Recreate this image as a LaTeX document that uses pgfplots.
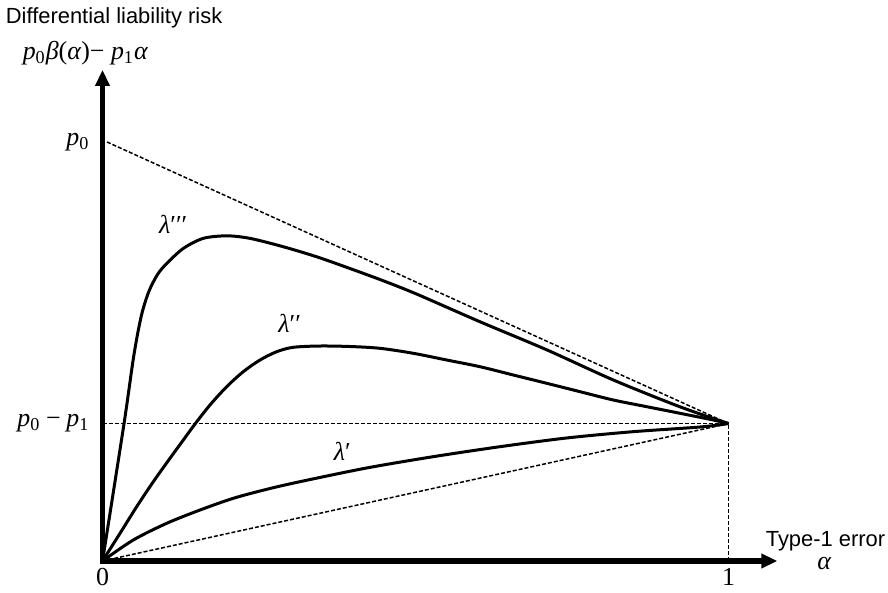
\documentclass[border=0pt]{standalone}
\usepackage{fontspec}
\setmainfont{Liberation Serif}
\newfontfamily\arial{Liberation Sans}
\usepackage{pgfplots}
\pgfplotsset{compat=1.18}
\usetikzlibrary{arrows.meta}

\newcommand{\pp}[1]{\textit{p}\textsubscript{#1}}
\newcommand{\mfont}{\fontsize{13}{15}\selectfont}

\begin{document}
\begin{tikzpicture}
\useasboundingbox (-51.25bp,-16bp) rectangle (392.75bp,280.5bp);
\begin{axis}[
    x=313bp, y=209.5bp,
    xmin=0, xmax=1.078, ymin=0, ymax=1.172,
    axis lines=left,
    axis line style={line width=2.5bp, line cap=rect, -{Triangle[length=8bp,width=7bp]}},
    major tick length=0pt,
    xtick={0,1}, xticklabels={0,1},
    ytick={0.328,1}, yticklabels={\pp0\hspace{0.22em}−\hspace{0.22em}\pp1, \pp0\hspace{4bp}},
    ticklabel style={font=\mfont},
    yticklabel style={xshift=-3bp},
    clip=false,
    dashed line/.style={black, line width=0.75bp, dash pattern=on 2bp off 1bp},
    curve/.style={black, line width=1.5bp, smooth},
]
% reference lines
\addplot[dashed line] coordinates {(0.0072,1.0) (1,0.328)};
\addplot[dashed line] coordinates {(0,0.328) (1,0.328)};
\addplot[dashed line] coordinates {(1,0) (1,0.328)};
\addplot[dashed line] coordinates {(0,0) (1,0.328)};

% lambda'''
\addplot[curve] coordinates {
    (0,0) (0.0343,0.327) (0.050,0.490) (0.062,0.585) (0.074,0.643)
    (0.088,0.684) (0.1026,0.710) (0.1291,0.746) (0.1610,0.770) (0.1984,0.776)
    (0.2356,0.770) (0.2888,0.750) (0.3422,0.726) (0.3954,0.698)
    (0.4481,0.669) (0.5019,0.637) (0.6030,0.571) (0.7096,0.504)
    (0.8160,0.432) (0.9225,0.368) (1,0.328)};
% lambda''
\addplot[curve] coordinates {
    (0,0) (0.0280,0.0661) (0.0546,0.1296) (0.0812,0.1893) (0.1078,0.2451)
    (0.1291,0.2888) (0.1478,0.3270) (0.1717,0.3723) (0.1984,0.4160)
    (0.2249,0.4518) (0.2516,0.4797) (0.2783,0.4995) (0.3048,0.5100)
    (0.3474,0.5131) (0.3954,0.5119) (0.4433,0.5076) (0.4965,0.4957)
    (0.5498,0.4797) (0.6030,0.4637) (0.6562,0.4439) (0.7096,0.4241)
    (0.7628,0.4041) (0.8160,0.3842) (0.8693,0.3683) (0.9225,0.3525)
    (0.9757,0.3365) (1,0.328)};
% lambda'
\addplot[curve] coordinates {
    (0,0) (0.0492,0.0501) (0.1026,0.0900) (0.1558,0.1217) (0.2089,0.1496)
    (0.2623,0.1711) (0.3155,0.1893) (0.4220,0.2220) (0.5280,0.2489)
    (0.6350,0.2728) (0.7415,0.2936) (0.8474,0.3086) (0.9545,0.3198)
    (1,0.328)};

\node[font=\mfont] at (axis cs:0.113,0.803) {\textit{λ}′′′};
\node[font=\mfont] at (axis cs:0.299,0.568) {\textit{λ}′′};
\node[font=\mfont] at (axis cs:0.383,0.261) {\textit{λ}′};

\node[font=\arial\fontsize{11}{13}\selectfont, anchor=base west, inner sep=0pt]
    at (axis cs:-0.155,1.283) {Differential liability risk};
\node[font=\mfont, anchor=base west, inner sep=0pt]
    at (axis cs:-0.128,1.197) {\pp0\textit{β}(\textit{α})−\hspace{0.25em}\pp1\textit{α}};
\node[font=\arial\fontsize{11}{13}\selectfont, anchor=base west, inner sep=0pt]
    at (axis cs:1.059,0.0356) {Type-1 error};
\node[font=\mfont] at (axis cs:1.153,-0.005) {\textit{α}};
\end{axis}
\end{tikzpicture}
\end{document}
